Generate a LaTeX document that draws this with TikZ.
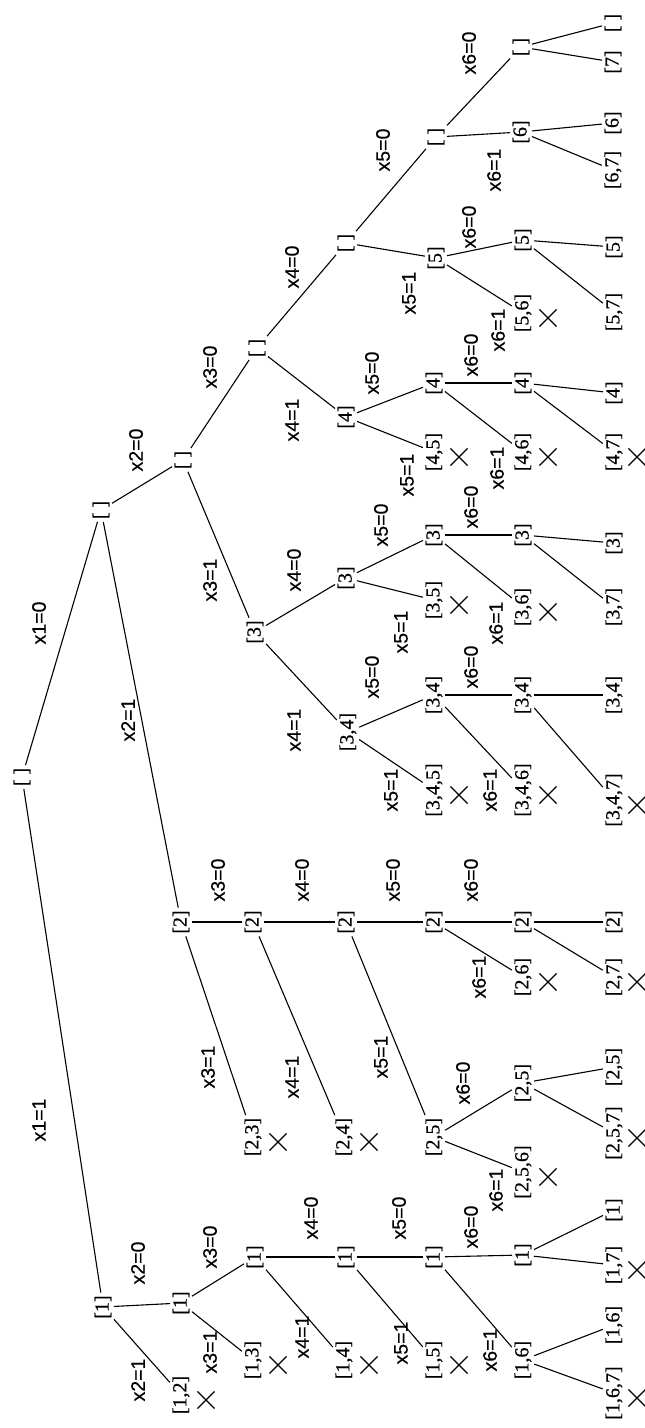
\documentclass[tikz,border=0pt]{standalone}
\usepackage{fontspec}
\setmainfont{Liberation Serif}
\newfontfamily\nserif[FakeBold=0.6]{Liberation Serif}
\newfontfamily\lsans[FakeBold=0.4]{Liberation Sans}
\usetikzlibrary{shapes.misc}
\tikzset{
 nd/.style={rotate=90, inner sep=2.5pt, font=\nserif\fontsize{20}{22}\selectfont},
 lb/.style={rotate=90, inner sep=0pt, font=\lsans\fontsize{19.5}{21}\selectfont},
 xm/.style={cross out, draw, minimum size=16pt, inner sep=0pt, line width=1.1pt},
 edge/.style={line width=1.1pt},
}
\newcommand\TNode[4]{\node[nd] (#1) at (#2,-#3) {#4};}
\newcommand\TLab[4]{\node[lb] (#1) at (#2,-#3) {#4};}
\newcommand\TCross[3]{\node[xm] (#1) at (#2+25,-#3-5) {};}
\begin{document}
\begin{tikzpicture}[x=1pt,y=1pt]
\useasboundingbox (0,0) rectangle (645,-1428);
% nodes
\TNode{r}{22}{777}{[ ]}
\TNode{n0}{101}{510}{[ ]}
\TNode{n1}{103}{1307}{[1]}
\TNode{n00}{183}{460}{[ ]}
\TNode{n01}{181}{922}{[2]}
\TNode{n10}{181}{1303}{[1]}
\TNode{n11}{181}{1395}{[1,2]}
\TNode{n000}{257}{348}{[ ]}
\TNode{n001}{255}{632}{[3]}
\TNode{n010}{253}{922}{[2]}
\TNode{n011}{253}{1137}{[2,3]}
\TNode{n100}{255}{1257}{[1]}
\TNode{n101}{253}{1360}{[1,3]}
\TNode{n0000}{346}{243}{[ ]}
\TNode{n0001}{346}{417}{[4]}
\TNode{n0010}{346}{578}{[3]}
\TNode{n0011}{348}{732}{[3,4]}
\TNode{n0100}{346}{922}{[2]}
\TNode{n0101}{344}{1137}{[2,4]}
\TNode{n1000}{346}{1257}{[1]}
\TNode{n1001}{344}{1360}{[1,4]}
\TNode{n00000}{436}{137}{[ ]}
\TNode{n00001}{436}{258}{[5]}
\TNode{n00010}{434}{383}{[4]}
\TNode{n00011}{434}{452}{[4,5]}
\TNode{n00100}{434}{535}{[3]}
\TNode{n00101}{434}{600}{[3,5]}
\TNode{n00110}{434}{695}{[3,4]}
\TNode{n00111}{434}{790}{[3,4,5]}
\TNode{n01000}{434}{922}{[2]}
\TNode{n01001}{434}{1137}{[2,5]}
\TNode{n10000}{434}{1257}{[1]}
\TNode{n10001}{434}{1360}{[1,5]}
\TNode{n000000}{521}{47}{[ ]}
\TNode{n000001}{521}{132}{[6]}
\TNode{n000010}{523}{240}{[5]}
\TNode{n000011}{523}{313}{[5,6]}
\TNode{n000100}{523}{383}{[4]}
\TNode{n000101}{523}{452}{[4,6]}
\TNode{n001000}{523}{535}{[3]}
\TNode{n001001}{523}{607}{[3,6]}
\TNode{n001100}{523}{695}{[3,4]}
\TNode{n001101}{523}{790}{[3,4,6]}
\TNode{n010000}{523}{922}{[2]}
\TNode{n010001}{523}{977}{[2,6]}
\TNode{n010010}{523}{1083}{[2,5]}
\TNode{n010011}{523}{1172}{[2,5,6]}
\TNode{n100000}{523}{1255}{[1]}
\TNode{n100001}{523}{1360}{[1,6]}
\TNode{n0000000}{613}{23}{[ ]}
\TNode{n0000001}{613}{62}{[7]}
\TNode{n0000010}{613}{123}{[6]}
\TNode{n0000011}{613}{170}{[6,7]}
\TNode{n0000100}{614}{247}{[5]}
\TNode{n0000101}{614}{312}{[5,7]}
\TNode{n0001000}{614}{393}{[4]}
\TNode{n0001001}{614}{452}{[4,7]}
\TNode{n0010000}{614}{543}{[3]}
\TNode{n0010001}{614}{607}{[3,7]}
\TNode{n0011000}{614}{695}{[3,4]}
\TNode{n0011001}{614}{800}{[3,4,7]}
\TNode{n0100000}{614}{922}{[2]}
\TNode{n0100001}{614}{977}{[2,7]}
\TNode{n0100100}{614}{1067}{[2,5]}
\TNode{n0100101}{614}{1133}{[2,5,7]}
\TNode{n1000000}{614}{1210}{[1]}
\TNode{n1000001}{614}{1265}{[1,7]}
\TNode{n1000010}{614}{1325}{[1,6]}
\TNode{n1000011}{614}{1393}{[1,6,7]}
% crosses
\TCross{x11}{181}{1395}
\TCross{x011}{253}{1137}
\TCross{x101}{253}{1360}
\TCross{x0101}{344}{1137}
\TCross{x1001}{344}{1360}
\TCross{x00011}{434}{452}
\TCross{x00101}{434}{600}
\TCross{x00111}{434}{790}
\TCross{x10001}{434}{1360}
\TCross{x000011}{523}{313}
\TCross{x000101}{523}{452}
\TCross{x001001}{523}{607}
\TCross{x001101}{523}{790}
\TCross{x010001}{523}{977}
\TCross{x010011}{523}{1172}
\TCross{x0001001}{612}{452}
\TCross{x0011001}{612}{800}
\TCross{x0100001}{612}{977}
\TCross{x0100101}{612}{1133}
\TCross{x1000001}{612}{1265}
\TCross{x1000011}{612}{1393}
% edge labels
\TLab{l0}{39}{623}{x1=0}
\TLab{l1}{39}{1120}{x1=1}
\TLab{l00}{136}{450}{x2=0}
\TLab{l01}{128}{720}{x2=1}
\TLab{l10}{138}{1263}{x2=0}
\TLab{l11}{138}{1380}{x2=1}
\TLab{l000}{210}{367}{x3=0}
\TLab{l001}{210}{580}{x3=1}
\TLab{l010}{218}{880}{x3=0}
\TLab{l011}{208}{1067}{x3=1}
\TLab{l100}{210}{1247}{x3=0}
\TLab{l101}{210}{1352}{x3=1}
\TLab{l0000}{292}{267}{x4=0}
\TLab{l0001}{292}{420}{x4=1}
\TLab{l0010}{294}{570}{x4=0}
\TLab{l0011}{294}{730}{x4=1}
\TLab{l0100}{302}{880}{x4=0}
\TLab{l0101}{292}{1077}{x4=1}
\TLab{l1000}{311}{1218}{x4=0}
\TLab{l1001}{302}{1337}{x4=1}
\TLab{l00000}{383}{150}{x5=0}
\TLab{l00001}{409}{293}{x5=1}
\TLab{l00010}{372}{373}{x5=0}
\TLab{l00011}{407}{475}{x5=1}
\TLab{l00100}{381}{525}{x5=0}
\TLab{l00101}{401}{632}{x5=1}
\TLab{l00110}{372}{677}{x5=0}
\TLab{l00111}{391}{790}{x5=1}
\TLab{l01000}{393}{880}{x5=0}
\TLab{l01001}{381}{1057}{x5=1}
\TLab{l10000}{399}{1218}{x5=0}
\TLab{l10001}{401}{1343}{x5=1}
\TLab{l000000}{469}{53}{x6=0}
\TLab{l000001}{494}{170}{x6=1}
\TLab{l000010}{469}{227}{x6=0}
\TLab{l000011}{498}{330}{x6=1}
\TLab{l000100}{471}{355}{x6=0}
\TLab{l000101}{497}{468}{x6=1}
\TLab{l001000}{471}{507}{x6=0}
\TLab{l001001}{496}{623}{x6=1}
\TLab{l001100}{471}{667}{x6=0}
\TLab{l001101}{490}{790}{x6=1}
\TLab{l010000}{471}{880}{x6=0}
\TLab{l010001}{479}{977}{x6=1}
\TLab{l010010}{463}{1083}{x6=0}
\TLab{l010011}{496}{1190}{x6=1}
\TLab{l100000}{471}{1227}{x6=0}
\TLab{l100001}{490}{1350}{x6=1}
% edges
\foreach \a/\b in {r/n0, r/n1,
 n0/n00, n0/n01, n1/n10, n1/n11,
 n00/n000, n00/n001, n01/n010, n01/n011, n10/n100, n10/n101,
 n000/n0000, n000/n0001, n001/n0010, n001/n0011, n010/n0100, n010/n0101, n100/n1000, n100/n1001,
 n0000/n00000, n0000/n00001, n0001/n00010, n0001/n00011, n0010/n00100, n0010/n00101, n0011/n00110, n0011/n00111, n0100/n01000, n0100/n01001, n1000/n10000, n1000/n10001,
 n00000/n000000, n00000/n000001, n00001/n000010, n00001/n000011, n00010/n000100, n00010/n000101, n00100/n001000, n00100/n001001, n00110/n001100, n00110/n001101, n01000/n010000, n01000/n010001, n01001/n010010, n01001/n010011, n10000/n100000, n10000/n100001,
 n000000/n0000000, n000000/n0000001, n000001/n0000010, n000001/n0000011, n000010/n0000100, n000010/n0000101, n000100/n0001000, n000100/n0001001, n001000/n0010000, n001000/n0010001, n001100/n0011000, n001100/n0011001, n010000/n0100000, n010000/n0100001, n010010/n0100100, n010010/n0100101, n100000/n1000000, n100000/n1000001, n100001/n1000010, n100001/n1000011}
 \draw[edge] (\a) -- (\b);
\end{tikzpicture}
\end{document}
